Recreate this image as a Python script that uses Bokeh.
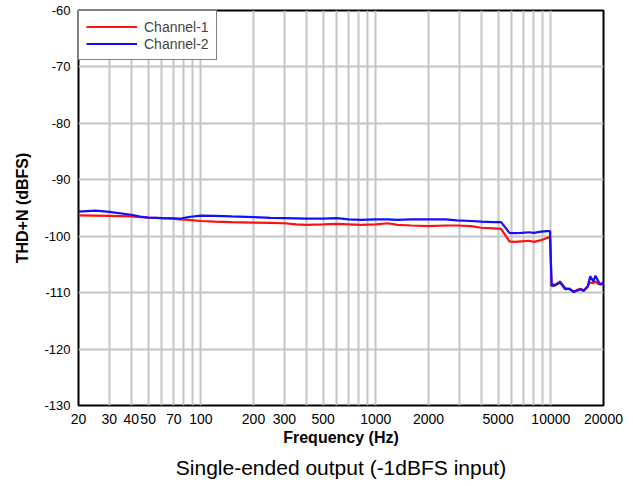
from bokeh.plotting import figure
from bokeh.models import (Range1d, FixedTicker, PrintfTickFormatter, Title, Legend, LegendItem)
from bokeh.embed import file_html
from bokeh.resources import INLINE

freq = [20, 25, 30, 40, 45, 50, 60, 70, 76, 85, 100, 120, 150, 200, 250, 300, 350, 400,
        500, 600, 700, 820, 1000, 1170, 1330, 1600, 2000, 2500, 2900, 3500, 4000, 4700,
        5200, 5800, 6200, 6800, 7500, 8000, 8800, 9500, 9900, 10100, 10600, 11300, 12100,
        12800, 13500, 14200, 14800, 15400, 16200, 16800, 17500, 18000, 18700, 19200, 20000]

ch1 = [-96.3, -96.35, -96.4, -96.5, -96.6, -96.7, -96.8, -96.9, -97.0, -97.1, -97.3, -97.4,
       -97.5, -97.6, -97.65, -97.7, -97.9, -98.0, -97.9, -97.8, -97.9, -98.0, -97.9, -97.7,
       -98.0, -98.1, -98.2, -98.1, -98.1, -98.2, -98.5, -98.6, -98.7, -100.9, -101.0, -100.9,
       -100.8, -101.0, -100.7, -100.3, -100.2, -108.5, -108.6, -108.0, -109.2, -109.4, -109.8,
       -109.5, -109.3, -109.6, -108.9, -108.2, -108.3, -108.0, -108.5, -108.4, -108.3]

ch2 = [-95.65, -95.45, -95.7, -96.2, -96.5, -96.7, -96.8, -96.85, -96.9, -96.6, -96.35, -96.4,
       -96.5, -96.6, -96.75, -96.8, -96.85, -96.9, -96.9, -96.8, -97.0, -97.1, -97.0, -97.0,
       -97.1, -97.0, -97.0, -97.0, -97.2, -97.3, -97.4, -97.5, -97.5, -99.4, -99.45, -99.4,
       -99.3, -99.4, -99.2, -99.1, -99.1, -108.8, -108.7, -108.2, -109.4, -109.3, -109.9,
       -109.6, -109.4, -109.7, -109.0, -107.1, -108.0, -107.0, -108.0, -108.6, -108.3]

x_major = [20, 30, 40, 50, 70, 100, 200, 300, 500, 1000, 2000, 5000, 10000, 20000]
x_minor = [60, 80, 90, 400, 600, 700, 800, 900, 3000, 4000, 6000, 7000, 8000, 9000]
y_ticks = [-130, -120, -110, -100, -90, -80, -70, -60]

FONT = "Liberation Sans"
GRID = "#c4c4c4"

p = figure(x_axis_type="log", x_range=Range1d(20, 20000), y_range=Range1d(-130, -60),
           frame_width=525, frame_height=395,
           min_border_left=78, min_border_right=30, min_border_top=10, min_border_bottom=81,
           output_backend="svg", toolbar_location=None, background_fill_color="white",
           border_fill_color="white")

p.outline_line_color = "black"
p.outline_line_width = 2

p.xaxis.ticker = FixedTicker(ticks=x_major, minor_ticks=x_minor)
p.xaxis.formatter = PrintfTickFormatter(format="%d")
p.yaxis.ticker = FixedTicker(ticks=y_ticks)
p.yaxis.formatter = PrintfTickFormatter(format="%d")

for ax in (p.xaxis, p.yaxis):
    ax.axis_line_color = None
    ax.major_tick_line_color = None
    ax.minor_tick_line_color = None
    ax.major_tick_out = 0
    ax.minor_tick_out = 0
    ax.major_label_text_font = FONT
    ax.major_label_text_color = "black"
    ax.axis_label_text_font = FONT
    ax.axis_label_text_font_style = "bold"
    ax.axis_label_text_color = "black"
    ax.axis_label_text_font_size = "16px"

p.xaxis.major_label_text_font_size = "14px"
p.yaxis.major_label_text_font_size = "13px"
p.xaxis.major_label_standoff = 8
p.yaxis.major_label_standoff = 8
p.xaxis.axis_label = "Frequency (Hz)"
p.yaxis.axis_label = "THD+N (dBFS)"
p.xaxis.axis_label_standoff = 2
p.yaxis.axis_label_standoff = 10

p.xgrid.grid_line_color = GRID
p.xgrid.grid_line_width = 2
p.xgrid.minor_grid_line_color = GRID
p.xgrid.minor_grid_line_width = 2
p.ygrid.grid_line_color = GRID
p.ygrid.grid_line_width = 2

r1 = p.line(freq, ch1, line_color="#ff1010", line_width=2.2)
r2 = p.line(freq, ch2, line_color="#1010ff", line_width=2.2)

legend = Legend(items=[LegendItem(label="Channel-1", renderers=[r1]),
                       LegendItem(label="Channel-2", renderers=[r2])],
                location="top_left", margin=0, padding=7, spacing=0,
                glyph_width=51, glyph_height=17, label_height=17, label_standoff=7,
                label_text_font=FONT, label_text_font_size="14px",
                border_line_color="black", border_line_width=1.5,
                background_fill_alpha=1.0)
p.add_layout(legend)

cap = Title(text="Single-ended output (-1dBFS input)", align="center",
            text_font=FONT, text_font_size="21px", text_font_style="normal",
            text_color="black", standoff=10)
p.add_layout(cap, "below")

open("out.html", "w").write(file_html(p, INLINE))
